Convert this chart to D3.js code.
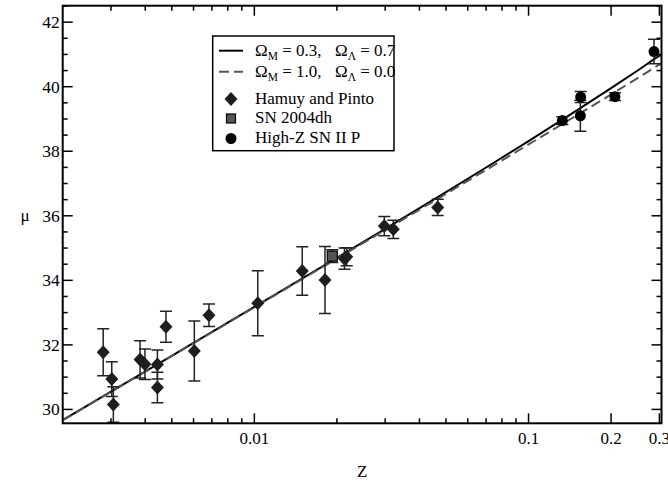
<!DOCTYPE html>
<html><head><meta charset="utf-8">
<script src="https://cdn.jsdelivr.net/npm/d3@7"></script>
<style>body{margin:0;background:#fff}svg{display:block}</style>
</head><body><svg id="c" width="668" height="485" font-family="Liberation Serif"></svg>
<script>
// Hamuy and Pinto sample
const hpZ   = [0.00281,0.00302,0.00306,0.00383,0.00399,0.00443,0.00443,0.00476,0.00604,0.00683,0.01029,0.01495,0.0181,0.02132,0.02172,0.02978,0.03212,0.04664];
const hpMu  = [31.77,30.94,30.15,31.55,31.40,31.39,30.68,32.56,31.81,32.92,33.29,34.29,34.01,34.67,34.73,35.68,35.58,36.26];
const hpErr = [0.73,0.54,0.55,0.58,0.47,0.45,0.47,0.48,0.93,0.35,1.01,0.75,1.04,0.33,0.28,0.30,0.28,0.25];
// SN 2004dh
const dhZ = [0.01924], dhMu = [34.75], dhErr = [0.20];
// High-Z SN II P
const hzZ   = [0.1328,0.1549,0.1545,0.2066,0.2868];
const hzMu  = [38.95,39.68,39.10,39.69,41.09];
const hzErr = [0.12,0.17,0.48,0.12,0.38];
// model curves
const modelZ = [0.002,0.003,0.005,0.01,0.02,0.03,0.05,0.07,0.1,0.15,0.2,0.25,0.3,0.3054];
const muLCDM = [29.667,30.549,31.662,33.175,34.697,35.594,36.734,37.496,38.315,39.266,39.956,40.502,40.956,40.994];
const muEdS  = [29.665,30.546,31.656,33.164,34.675,35.560,36.680,37.421,38.210,39.114,39.761,40.266,40.682,40.720];
const xMajor = [0.01,0.1,0.2,0.3];
const xMajorLabels = ["0.01","0.1","0.2","0.3"];
const xMinor = [0.003,0.004,0.005,0.006,0.007,0.008,0.009,0.02,0.03,0.04,0.05,0.06,0.07,0.08,0.09];
const yMajor = [30,32,34,36,38,40,42];

const FONT="Liberation Serif";
const L=62.7,R=661.5,T=5.7,B=423.3;
const svg=d3.select("#c");
const x=d3.scaleLog().domain([0.002,0.3054]).range([L,R]);
const y=d3.scaleLinear().domain([29.57,42.51]).range([B,T]);

svg.append("clipPath").attr("id","cp").append("rect").attr("x",L).attr("y",T).attr("width",R-L).attr("height",B-T);

// model lines
const line=(arr)=>d3.line().x((d,i)=>x(modelZ[i])).y(d=>y(d)).curve(d3.curveMonotoneX)(arr);
const g=svg.append("g").attr("clip-path","url(#cp)");
g.append("path").attr("d",line(muLCDM)).attr("fill","none").attr("stroke","#000").attr("stroke-width",2);
g.append("path").attr("d",line(muEdS)).attr("fill","none").attr("stroke","#555").attr("stroke-width",2).attr("stroke-dasharray","10,5");

// error bars
function errbars(zs,mus,errs,col){
  zs.forEach((z,i)=>{
    const cx=x(z),y1=y(mus[i]+errs[i]),y2=y(mus[i]-errs[i]);
    g.append("line").attr("x1",cx).attr("x2",cx).attr("y1",y1).attr("y2",y2).attr("stroke",col).attr("stroke-width",1.5);
    [y1,y2].forEach(yy=>g.append("line").attr("x1",cx-6).attr("x2",cx+6).attr("y1",yy).attr("y2",yy).attr("stroke",col).attr("stroke-width",1.5));
  });
}
errbars(hpZ,hpMu,hpErr,"#222");
errbars(dhZ,dhMu,dhErr,"#222");
errbars(hzZ,hzMu,hzErr,"#222");

const diamond=(cx,cy,w,h)=>`M${cx},${cy-h}L${cx+w},${cy}L${cx},${cy+h}L${cx-w},${cy}Z`;
hpZ.forEach((z,i)=>g.append("path").attr("d",diamond(x(z),y(hpMu[i]),6.5,7)).attr("fill","#1e1e1e"));
dhZ.forEach((z,i)=>g.append("rect").attr("x",x(z)-5).attr("y",y(dhMu[i])-5).attr("width",10).attr("height",10).attr("fill","#555").attr("stroke","#000").attr("stroke-width",1.2));
hzZ.forEach((z,i)=>g.append("circle").attr("cx",x(z)).attr("cy",y(hzMu[i])).attr("r",5.5).attr("fill","#000"));

// frame and ticks
const ax=svg.append("g").attr("stroke","#000");
ax.append("rect").attr("x",L).attr("y",T).attr("width",R-L).attr("height",B-T).attr("fill","none").attr("stroke-width",2);
xMajor.forEach(v=>{ax.append("line").attr("x1",x(v)).attr("x2",x(v)).attr("y1",B).attr("y2",B-10).attr("stroke-width",1.5);
  ax.append("line").attr("x1",x(v)).attr("x2",x(v)).attr("y1",T).attr("y2",T+10).attr("stroke-width",1.5);});
xMinor.forEach(v=>{ax.append("line").attr("x1",x(v)).attr("x2",x(v)).attr("y1",B).attr("y2",B-5).attr("stroke-width",1.5);
  ax.append("line").attr("x1",x(v)).attr("x2",x(v)).attr("y1",T).attr("y2",T+5).attr("stroke-width",1.5);});
d3.range(30,42.51,0.5).forEach(v=>{const len=(Math.abs(v%2)<1e-9)?10:5;
  ax.append("line").attr("x1",L).attr("x2",L+len).attr("y1",y(v)).attr("y2",y(v)).attr("stroke-width",1.5);
  ax.append("line").attr("x1",R).attr("x2",R-len).attr("y1",y(v)).attr("y2",y(v)).attr("stroke-width",1.5);});
const txt=(sel)=>sel.append("text").attr("font-family",FONT).style("font-family",FONT).attr("fill","#000");
const labels=svg.append("g").attr("font-family",FONT);
xMajor.forEach((v,i)=>txt(labels).attr("x",x(v)).attr("y",B+20.5).attr("text-anchor","middle").attr("font-size",17).text(xMajorLabels[i]));
yMajor.forEach(v=>txt(labels).attr("x",L-3).attr("y",y(v)+6).attr("text-anchor","end").attr("font-size",17.5).text(String(v)));
txt(labels).attr("x",(L+R)/2).attr("y",477).attr("text-anchor","middle").attr("font-size",17).text("Z");
txt(labels).attr("x",25).attr("y",y(36)+5).attr("text-anchor","middle").attr("font-size",17).text("μ");

// legend
const lg=svg.append("g");
lg.append("rect").attr("x",212.7).attr("y",36).attr("width",181.3).attr("height",114.7).attr("fill","#fff").attr("stroke","#000").attr("stroke-width",1.5);
lg.append("line").attr("x1",219).attr("x2",243).attr("y1",50.7).attr("y2",50.7).attr("stroke","#000").attr("stroke-width",2);
lg.append("line").attr("x1",219).attr("x2",243).attr("y1",71.7).attr("y2",71.7).attr("stroke","#555").attr("stroke-width",2).attr("stroke-dasharray","10,5");
lg.append("path").attr("d",diamond(231,99,6.5,7)).attr("fill","#1e1e1e");
lg.append("rect").attr("x",226.5).attr("y",114).attr("width",9).attr("height",9).attr("fill","#555").attr("stroke","#000").attr("stroke-width",1.2);
lg.append("circle").attr("cx",231).attr("cy",138.5).attr("r",5.5).attr("fill","#000");
function omega(xp,yp,sub,rest){
  const t=txt(lg).attr("x",xp).attr("y",yp).attr("font-size",17);
  t.append("tspan").text("Ω");
  t.append("tspan").attr("font-size",11.5).attr("dy",4).text(sub);
  t.append("tspan").attr("dy",-4).text(rest);
}
omega(255,55.5,"M"," = 0.3,");
omega(335,55.5,"Λ"," = 0.7");
omega(255,76.5,"M"," = 1.0,");
omega(335,76.5,"Λ"," = 0.0");
txt(lg).attr("x",255).attr("y",103.5).attr("font-size",17).text("Hamuy and Pinto");
txt(lg).attr("x",255).attr("y",123).attr("font-size",17).text("SN 2004dh");
txt(lg).attr("x",255).attr("y",143).attr("font-size",17).text("High-Z SN II P");
</script></body></html>
